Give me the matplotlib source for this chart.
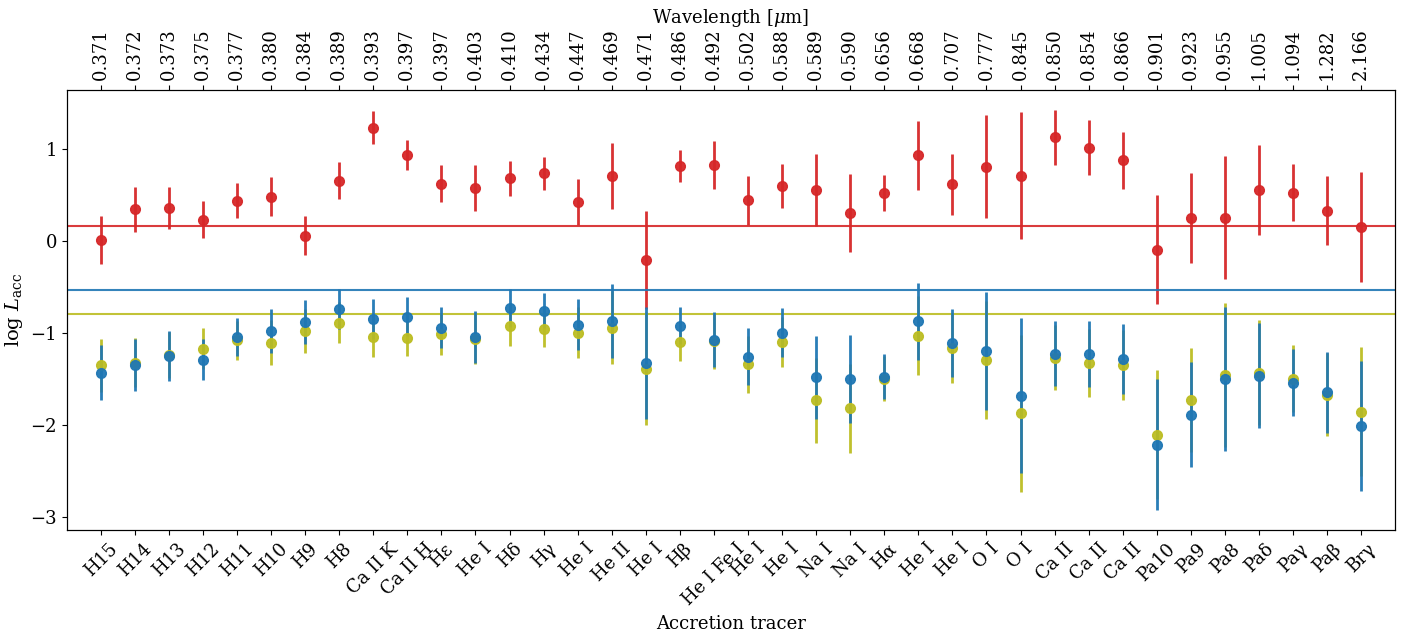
import matplotlib
matplotlib.use("Agg")
import matplotlib.pyplot as plt
import numpy as np

plt.rcParams["font.family"] = "DejaVu Serif"
plt.rcParams["mathtext.fontset"] = "dejavuserif"
plt.rcParams["font.size"] = 13

tracers = ["H15", "H14", "H13", "H12", "H11", "H10", "H9", "H8", "Ca II K", "Ca II H",
           "Hε", "He I", "Hδ", "Hγ", "He I", "He II", "He I", "Hβ", "He I Fe I", "He I",
           "He I", "Na I", "Na I", "Hα", "He I", "He I", "O I", "O I", "Ca II", "Ca II",
           "Ca II", "Pa10", "Pa9", "Pa8", "Paδ", "Paγ", "Paβ", "Brγ"]
wavelengths = ["0.371", "0.372", "0.373", "0.375", "0.377", "0.380", "0.384", "0.389",
               "0.393", "0.397", "0.397", "0.403", "0.410", "0.434", "0.447", "0.469",
               "0.471", "0.486", "0.492", "0.502", "0.588", "0.589", "0.590", "0.656",
               "0.668", "0.707", "0.777", "0.845", "0.850", "0.854", "0.866", "0.901",
               "0.923", "0.955", "1.005", "1.094", "1.282", "2.166"]

# red star
red_val = [0.01, 0.344, 0.362, 0.232, 0.438, 0.482, 0.058, 0.656, 1.232, 0.935, 0.623, 0.58,
           0.681, 0.739, 0.428, 0.707, -0.207, 0.815, 0.83, 0.442, 0.598, 0.558, 0.304, 0.525,
           0.931, 0.616, 0.808, 0.71, 1.127, 1.014, 0.88, -0.091, 0.254, 0.254, 0.554, 0.525,
           0.33, 0.152]
red_err = [0.26, 0.24, 0.23, 0.2, 0.19, 0.21, 0.21, 0.2, 0.18, 0.165, 0.2, 0.25,
           0.19, 0.18, 0.25, 0.36, 0.53, 0.17, 0.26, 0.27, 0.235, 0.39, 0.42, 0.195,
           0.375, 0.33, 0.56, 0.69, 0.3, 0.3, 0.31, 0.59, 0.49, 0.67, 0.49, 0.31,
           0.375, 0.6]
red_mean = 0.17

# yellow star
olive_val = [-1.348, -1.319, -1.232, -1.167, -1.076, -1.101, -0.975, -0.884, -1.036, -1.054,
             -1.011, -1.058, -0.917, -0.953, -0.993, -0.938, -1.384, -1.091, -1.087, -1.337,
             -1.098, -1.728, -1.815, -1.493, -1.029, -1.159, -1.29, -1.87, -1.264, -1.322,
             -1.344, -2.105, -1.725, -1.453, -1.428, -1.493, -1.667, -1.855]
olive_err = [0.29, 0.27, 0.25, 0.22, 0.21, 0.24, 0.24, 0.22, 0.22, 0.19, 0.225, 0.28,
             0.225, 0.2, 0.275, 0.4, 0.61, 0.21, 0.3, 0.31, 0.27, 0.46, 0.485, 0.245,
             0.43, 0.38, 0.645, 0.85, 0.35, 0.37, 0.38, 0.7, 0.565, 0.78, 0.57, 0.36,
             0.45, 0.7]
olive_mean = -0.79

# blue star
blue_val = [-1.428, -1.348, -1.246, -1.286, -1.04, -0.978, -0.877, -0.736, -0.848, -0.819,
            -0.938, -1.04, -0.725, -0.757, -0.906, -0.87, -1.322, -0.92, -1.069, -1.257,
            -0.996, -1.478, -1.496, -1.471, -0.87, -1.109, -1.192, -1.678, -1.221, -1.228,
            -1.283, -2.21, -1.884, -1.5, -1.46, -1.536, -1.641, -2.007]
blue_err = [0.3, 0.28, 0.27, 0.22, 0.21, 0.24, 0.235, 0.22, 0.22, 0.21, 0.225, 0.28,
            0.21, 0.19, 0.275, 0.4, 0.61, 0.2, 0.3, 0.31, 0.265, 0.45, 0.475, 0.245,
            0.42, 0.37, 0.64, 0.84, 0.35, 0.36, 0.38, 0.71, 0.57, 0.78, 0.57, 0.365,
            0.44, 0.71]
blue_mean = -0.533

x = np.arange(len(tracers))

fig = plt.figure(figsize=(14.18, 6.35), dpi=100)
ax = fig.add_axes([0.047, 0.165, 0.937, 0.693])

for vals, errs, mean, col in [(red_val, red_err, red_mean, "tab:red"),
                              (olive_val, olive_err, olive_mean, "tab:olive"),
                              (blue_val, blue_err, blue_mean, "tab:blue")]:
    ax.errorbar(x, vals, yerr=errs, fmt="o", color=col, ms=7, elinewidth=2, alpha=0.95)
    ax.axhline(mean, color=col, lw=1.5, alpha=0.9)

ax.set_xlim(-1, 38)
ax.set_ylim(-3.14, 1.64)
ax.set_xticks(x)
ax.set_xticklabels(tracers, rotation=45)
ax.set_xlabel("Accretion tracer")
ax.set_ylabel(r"log $L_{\rm acc}$", fontsize=14)

top = ax.twiny()
top.set_xlim(ax.get_xlim())
top.set_xticks(x)
top.set_xticklabels(wavelengths, rotation=90)
top.set_xlabel(r"Wavelength [$\mu$m]")

fig.savefig("out.png", dpi=100)
